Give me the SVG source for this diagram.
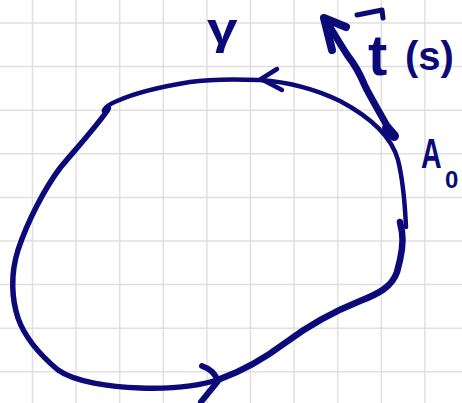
<svg xmlns="http://www.w3.org/2000/svg" width="462" height="403" viewBox="0 0 462 403">
<style>
.grid line{stroke:#e0e0e0;stroke-width:1.5}
.ink{fill:none;stroke:#0b0a78;stroke-linecap:round;stroke-linejoin:round}
.lbl{fill:#0b0a78;font-family:"Liberation Sans","DejaVu Sans",sans-serif;font-weight:bold}
</style>
<rect width="462" height="403" fill="#ffffff"/>
<g class="grid">
<line x1="32.5" y1="0" x2="32.5" y2="403"/>
<line x1="76.1" y1="0" x2="76.1" y2="403"/>
<line x1="119.7" y1="0" x2="119.7" y2="403"/>
<line x1="163.3" y1="0" x2="163.3" y2="403"/>
<line x1="206.9" y1="0" x2="206.9" y2="403"/>
<line x1="250.5" y1="0" x2="250.5" y2="403"/>
<line x1="294.1" y1="0" x2="294.1" y2="403"/>
<line x1="337.7" y1="0" x2="337.7" y2="403"/>
<line x1="381.3" y1="0" x2="381.3" y2="403"/>
<line x1="424.9" y1="0" x2="424.9" y2="403"/>
<line x1="0" y1="23" x2="462" y2="23"/>
<line x1="0" y1="66.6" x2="462" y2="66.6"/>
<line x1="0" y1="110.2" x2="462" y2="110.2"/>
<line x1="0" y1="153.8" x2="462" y2="153.8"/>
<line x1="0" y1="197.4" x2="462" y2="197.4"/>
<line x1="0" y1="241" x2="462" y2="241"/>
<line x1="0" y1="284.6" x2="462" y2="284.6"/>
<line x1="0" y1="328.2" x2="462" y2="328.2"/>
<line x1="0" y1="371.8" x2="462" y2="371.8"/>
</g>
<g id="curve">
<path class="ink" stroke-width="4.5" d="M406,227 C405,205 403,180 398,160 C392,138 372,118 340,101 C315,89 290,82 260,80 C235,79 210,79 190,82 C165,86 135,93 117,101 C112,103 106,106 104,110 C103,113 108,112 109,108"/>
<path class="ink" stroke-width="5.5" d="M107,111 C95,128 75,150 60,168 C45,188 28,220 18,250 C10,275 12,300 18,318 C25,338 40,355 58,370 C75,382 110,387 140,388 C170,389 200,386 220,379"/>
<path class="ink" stroke-width="6.5" d="M220,379 C245,370 265,358 285,343 C305,328 330,313 360,301 C378,294 392,287 397,272 C401,258 404,245 402,232 L400,222"/>
<path class="ink" stroke-width="4.5" d="M277,69 L261,79 L282,90"/>
<path class="ink" stroke-width="6" d="M202,366 Q214,370 218,381 L201,402"/>
</g>
<g id="tangent">
<path class="ink" stroke-width="10" d="M387,128 L394,136"/>
<path class="ink" stroke-width="7" d="M391,133 C383,118 372,100 365,86 C360,74 356,66 348,56 C340,44 333,32 327,22"/>
<path class="ink" stroke-width="8" d="M332,50 L324,18 L346,27"/>
<path class="ink" stroke-width="5" d="M357,15 L382,10 L383,18"/>
</g>
<g id="labels">
<text class="lbl" transform="translate(207,44) scale(1.25,1)" font-size="44">γ</text>
<text class="lbl" x="368" y="75" font-size="58">t</text>
<text class="lbl" x="405" y="70" font-size="40">(s)</text>
<text class="lbl" transform="translate(421,168) scale(0.68,1)" font-size="42">A</text>
<text class="lbl" x="445" y="188" font-size="24">0</text>
</g>
</svg>
